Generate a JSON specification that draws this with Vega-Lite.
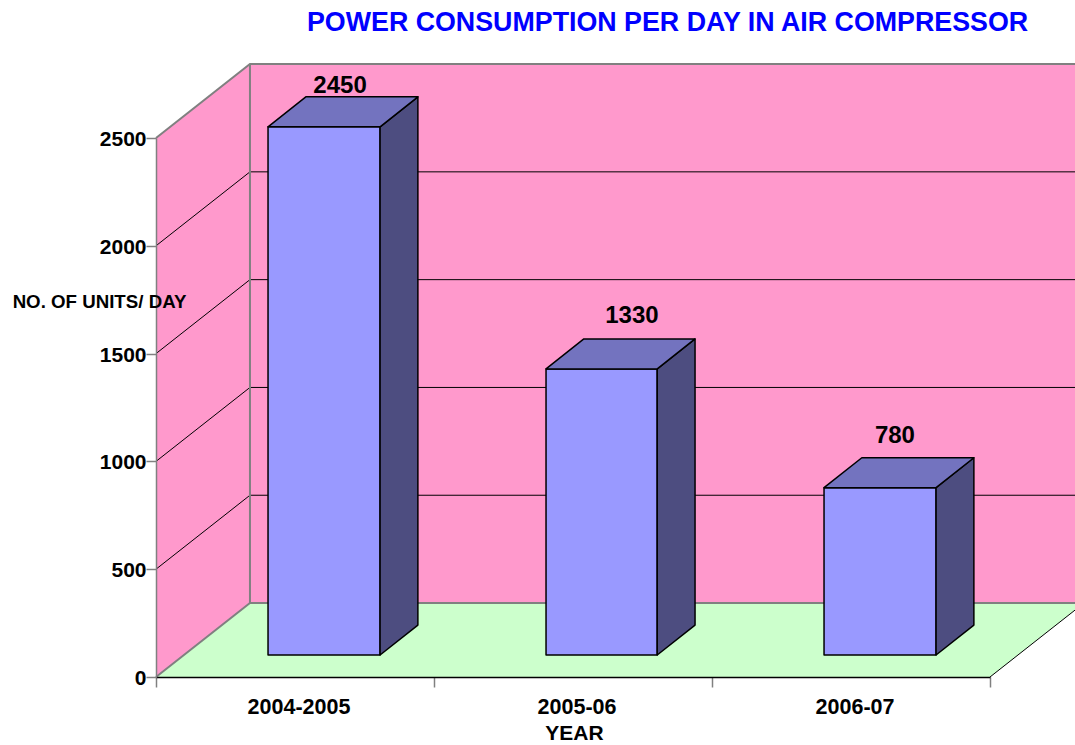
{
"$schema":"https://vega.github.io/schema/vega-lite/v6.json",
"width":834,"height":539,
"autosize":{"type":"none"},
"padding":{"left":156,"top":138,"right":85,"bottom":68},
"background":"#ffffff",
"view":{"stroke":null},
"title":{"text":"POWER CONSUMPTION PER DAY IN AIR COMPRESSOR","anchor":"start","frame":"group","dx":151,"offset":23,"font":"Liberation Sans","fontSize":26.8,"fontWeight":"bold","color":"#0000FF"},
"config":{"font":"Liberation Sans"},
"datasets":{
"surfaces":[
{"face":"wall","part":"left","x":0,"y":0,"y2":2500},
{"face":"wall","part":"left","x":0.338,"y":343,"y2":2843},
{"face":"wall","part":"back","x":0.338,"y":343,"y2":2843},
{"face":"wall","part":"back","x":3.338,"y":343,"y2":2843},
{"face":"floor","part":"floor","x":0,"y":0,"y2":0},
{"face":"floor","part":"floor","x":0.338,"y":0,"y2":343},
{"face":"floor","part":"floor","x":3,"y":0,"y2":343},
{"face":"floor","part":"floor","x":3.338,"y":343,"y2":343}
],
"thin":[
{"line":"g500","x":0,"y":500},{"line":"g500","x":0.338,"y":843},{"line":"g500","x":3.338,"y":843},
{"line":"g1000","x":0,"y":1000},{"line":"g1000","x":0.338,"y":1343},{"line":"g1000","x":3.338,"y":1343},
{"line":"g1500","x":0,"y":1500},{"line":"g1500","x":0.338,"y":1843},{"line":"g1500","x":3.338,"y":1843},
{"line":"g2000","x":0,"y":2000},{"line":"g2000","x":0.338,"y":2343},{"line":"g2000","x":3.338,"y":2343},
{"line":"floorRight","x":3,"y":0},{"line":"floorRight","x":3.338,"y":343}
],
"edges":[
{"line":"wallTop","x":0,"y":2500},{"line":"wallTop","x":0.338,"y":2843},{"line":"wallTop","x":3.338,"y":2843},
{"line":"corner","x":0.338,"y":343},{"line":"corner","x":0.338,"y":2843},
{"line":"floorBack","x":0,"y":0},{"line":"floorBack","x":0.338,"y":343},{"line":"floorBack","x":3.338,"y":343}
],
"boxes":[
{"year":"2004-2005","face":"front","x":0.403,"y":102,"y2":2552},
{"year":"2004-2005","face":"front","x":0.806,"y":102,"y2":2552},
{"year":"2004-2005","face":"side","x":0.806,"y":102,"y2":2552},
{"year":"2004-2005","face":"side","x":0.942,"y":241,"y2":2691},
{"year":"2004-2005","face":"top","x":0.403,"y":2552,"y2":2552},
{"year":"2004-2005","face":"top","x":0.539,"y":2552,"y2":2691},
{"year":"2004-2005","face":"top","x":0.806,"y":2552,"y2":2691},
{"year":"2004-2005","face":"top","x":0.942,"y":2691,"y2":2691},
{"year":"2005-06","face":"front","x":1.403,"y":102,"y2":1429},
{"year":"2005-06","face":"front","x":1.803,"y":102,"y2":1429},
{"year":"2005-06","face":"side","x":1.803,"y":102,"y2":1429},
{"year":"2005-06","face":"side","x":1.939,"y":241,"y2":1568},
{"year":"2005-06","face":"top","x":1.403,"y":1429,"y2":1429},
{"year":"2005-06","face":"top","x":1.539,"y":1429,"y2":1568},
{"year":"2005-06","face":"top","x":1.803,"y":1429,"y2":1568},
{"year":"2005-06","face":"top","x":1.939,"y":1568,"y2":1568},
{"year":"2006-07","face":"front","x":2.403,"y":102,"y2":878},
{"year":"2006-07","face":"front","x":2.806,"y":102,"y2":878},
{"year":"2006-07","face":"side","x":2.806,"y":102,"y2":878},
{"year":"2006-07","face":"side","x":2.942,"y":241,"y2":1017},
{"year":"2006-07","face":"top","x":2.403,"y":878,"y2":878},
{"year":"2006-07","face":"top","x":2.539,"y":878,"y2":1017},
{"year":"2006-07","face":"top","x":2.806,"y":878,"y2":1017},
{"year":"2006-07","face":"top","x":2.942,"y":1017,"y2":1017}
],
"labels":[
{"year":"2004-2005","value":2450,"x":0.662,"y":2741},
{"year":"2005-06","value":1330,"x":1.712,"y":1674},
{"year":"2006-07","value":780,"x":2.658,"y":1117}
]
},
"encoding":{
"x":{"field":"x","type":"quantitative","scale":{"domain":[0,3],"nice":false,"zero":false},
"axis":{"values":[0,0.5,1,1.5,2,2.5,3],"grid":false,"zindex":1,"title":"YEAR","titleX":418,"titleY":56,"titleAlign":"center","titleBaseline":"middle","titleFont":"Liberation Sans","titleFontSize":21,"titleFontWeight":"bold","titleColor":"#000000",
"labelExpr":"datum.value==0.5?'2004-2005':datum.value==1.5?'2005-06':datum.value==2.5?'2006-07':''","labelFont":"Liberation Sans","labelFontSize":21.5,"labelFontWeight":"bold","labelColor":"#000000","labelPadding":9,"labelOffset":3.5,"labelOverlap":false,"labelFlush":false,"labelBound":false,
"domainColor":"#000000","domainWidth":1.5,"tickColor":"#808080","tickWidth":1.5,"tickSize":10,
"tickOpacity":{"condition":{"test":"datum.value % 1 != 0","value":0},"value":1}}},
"y":{"field":"y","type":"quantitative","scale":{"domain":[0,2500],"nice":false,"zero":false},
"axis":{"values":[0,500,1000,1500,2000,2500],"format":"d","grid":false,"zindex":1,"title":"NO. OF UNITS/ DAY","titleAngle":0,"titleX":-57,"titleY":163,"titleAlign":"center","titleBaseline":"middle","titleFont":"Liberation Sans","titleFontSize":18.7,"titleFontWeight":"bold","titleColor":"#000000",
"labelFont":"Liberation Sans","labelFontSize":21,"labelFontWeight":"bold","labelColor":"#000000","labelPadding":0,"labelOffset":1.5,"labelBound":false,"labelFlush":false,"labelOverlap":false,
"domainColor":"#808080","domainWidth":1.5,"tickColor":"#808080","tickWidth":1.5,"tickSize":10}}
},
"layer":[
{"data":{"name":"surfaces"},"mark":{"type":"area","clip":false},
"encoding":{"y2":{"field":"y2"},"detail":{"field":"part"},
"fill":{"field":"face","type":"nominal","legend":null,"scale":{"domain":["wall","floor"],"range":["#FF99CC","#CCFFCC"]}}}},
{"data":{"name":"thin"},"mark":{"type":"line","stroke":"#000000","strokeWidth":1},"encoding":{"detail":{"field":"line"}}},
{"data":{"name":"edges"},"mark":{"type":"line","stroke":"#808080","strokeWidth":2},"encoding":{"detail":{"field":"line"}}},
{"data":{"name":"boxes"},"mark":{"type":"area","stroke":"#000000","strokeWidth":1.5,"strokeJoin":"round"},
"encoding":{"y2":{"field":"y2"},"detail":[{"field":"year"},{"field":"face"}],
"fill":{"field":"face","type":"nominal","legend":null,"scale":{"domain":["front","side","top"],"range":["#9999FF","#4D4D80","#7373BF"]}}}},
{"data":{"name":"labels"},"mark":{"type":"text","font":"Liberation Sans","fontSize":24,"fontWeight":"bold","color":"#000000","align":"center","baseline":"middle"},
"encoding":{"text":{"field":"value","type":"quantitative"}}}
],
"resolve":{"scale":{"fill":"independent"}}
}
